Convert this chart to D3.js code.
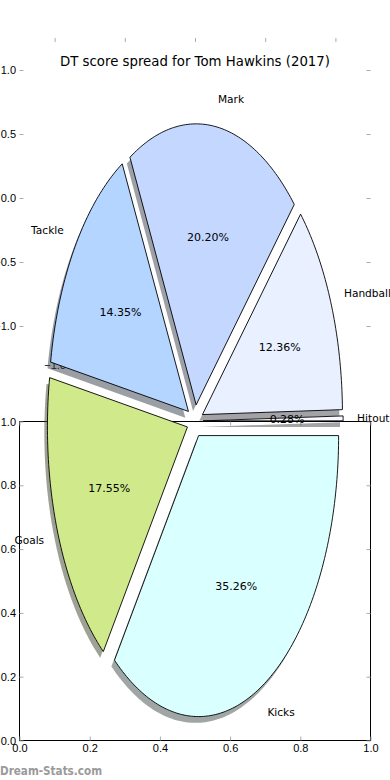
<!DOCTYPE html>
<html>
<head>
<meta charset="utf-8">
<script src="https://cdn.jsdelivr.net/npm/d3@7"></script>
<style>
  body { margin: 0; background: #fff; }
  svg { display: block; font-family: "DejaVu Sans", sans-serif; }
</style>
</head>
<body>
<svg id="chart" width="390" height="780"></svg>
<script>
const title = "DT score spread for Tom Hawkins (2017)";
const labels = ["Hitout", "Handball", "Mark", "Tackle", "Goals", "Kicks"];
const values = [0.28, 12.36, 20.20, 14.35, 17.55, 35.26];
const colors = ["#f7f7ff", "#e9f0ff", "#c4d8ff", "#b3d5ff", "#cfe98b", "#daffff"];
const pieTicks = [-1, -0.5, 0, 0.5, 1];
const unitTicks = [0, 0.2, 0.4, 0.6, 0.8, 1];
const explode = 0.058;
const startAngle = 0;

const svg = d3.select("#chart");
const fmt1 = d3.format(".1f");

// ghost axes behind the pie (only ticks + a few labels show)
const gx = d3.scaleLinear().domain([-1.25, 1.25]).range([19.5, 370.5]);
const gy = d3.scaleLinear().domain([-1.25, 1.25]).range([358, 38]);

function styleAxis(g) {
  g.select(".domain").remove();
  g.selectAll(".tick line").attr("stroke", "#aaa");
  g.selectAll(".tick text").attr("fill", "#000").style("font-size", "11px").attr("font-family", null);
}

svg.append("g").attr("transform", "translate(0,38)")
  .call(d3.axisTop(gx).tickValues(pieTicks).tickSize(-4).tickFormat(""))
  .call(styleAxis);
// only the lower tick labels that peek out from under the pie
svg.append("g").attr("transform", "translate(0,358)")
  .call(d3.axisBottom(gx).tickValues(pieTicks.slice(0, 4)).tickSize(0).tickPadding(3).tickFormat(fmt1))
  .call(styleAxis);
svg.append("g").attr("transform", "translate(19.5,0)")
  .call(d3.axisLeft(gy).tickValues(pieTicks).tickSize(-4).tickPadding(3.5).tickFormat(fmt1))
  .call(styleAxis);
svg.append("g").attr("transform", "translate(370.5,0)")
  .call(d3.axisRight(gy).tickValues(pieTicks).tickSize(-4).tickFormat(""))
  .call(styleAxis);

// title
svg.append("text")
  .attr("x", 195).attr("y", 65.5)
  .attr("text-anchor", "middle")
  .style("font-size", "13.3px")
  .text(title);

// lower 0..1 axes
const bx = d3.scaleLinear().domain([0, 1]).range([19.5, 370.5]);
const by = d3.scaleLinear().domain([0, 1]).range([740.5, 421.5]);

svg.append("rect")
  .attr("x", bx(0)).attr("y", by(1))
  .attr("width", bx(1) - bx(0)).attr("height", by(0) - by(1))
  .attr("fill", "#fff").attr("stroke", "#000").attr("stroke-width", 1);

svg.append("g").attr("transform", `translate(0,${by(0)})`)
  .call(d3.axisBottom(bx).tickValues(unitTicks).tickSize(-4).tickPadding(3.5).tickFormat(fmt1))
  .call(styleAxis);
svg.append("g").attr("transform", `translate(0,${by(1)})`)
  .call(d3.axisTop(bx).tickValues(unitTicks).tickSize(-4).tickFormat(""))
  .call(styleAxis);
svg.append("g").attr("transform", `translate(${bx(0)},0)`)
  .call(d3.axisLeft(by).tickValues(unitTicks).tickSize(-4).tickPadding(3.5).tickFormat(fmt1))
  .call(styleAxis);
svg.append("g").attr("transform", `translate(${bx(1)},0)`)
  .call(d3.axisRight(by).tickValues(unitTicks).tickSize(-4).tickFormat(""))
  .call(styleAxis);

// pie (stretched, matplotlib style: counter-clockwise from startAngle)
const xs = d3.scaleLinear().domain([-1.25, 1.25]).range([20, 370]);
const ys = d3.scaleLinear().domain([-1.25, 1.25]).range([772.25, 69.75]);
const total = d3.sum(values);
const cum = Array.from(d3.cumsum(values));
const rad = Math.PI / 180;

const slices = values.map((v, i) => {
  const t1 = startAngle + 360 * (cum[i] - v) / total;
  const t2 = startAngle + 360 * cum[i] / total;
  const tm = (t1 + t2) / 2 * rad;
  return {
    label: labels[i], value: v, color: colors[i], t1, t2,
    ox: explode * Math.cos(tm), oy: explode * Math.sin(tm),
    cos: Math.cos(tm), sin: Math.sin(tm)
  };
});

function wedgePoints(s, dx, dy) {
  const pts = [[s.ox + dx, s.oy + dy]];
  const n = Math.max(2, Math.ceil(s.t2 - s.t1));
  for (let k = 0; k <= n; k++) {
    const t = (s.t1 + (s.t2 - s.t1) * k / n) * rad;
    pts.push([s.ox + dx + Math.cos(t), s.oy + dy + Math.sin(t)]);
  }
  return pts;
}

const line = d3.line().x(d => xs(d[0])).y(d => ys(d[1]));
const sh = -0.02 * 80 / 72;

// shadows
svg.append("g").selectAll("path")
  .data(slices).enter()
  .append("path")
  .attr("d", d => line(wedgePoints(d, sh, sh)) + "Z")
  .attr("fill", d => { const c = d3.rgb(d.color); return d3.rgb(c.r * 0.3, c.g * 0.3, c.b * 0.3); })
  .attr("fill-opacity", 0.5);

// wedges
svg.append("g").selectAll("path")
  .data(slices).enter()
  .append("path")
  .attr("d", d => line(wedgePoints(d, 0, 0)) + "Z")
  .attr("fill", d => d.color)
  .attr("stroke", "#000")
  .attr("stroke-width", 0.9)
  .attr("stroke-linejoin", "miter");

// category labels
svg.append("g").selectAll("text")
  .data(slices).enter()
  .append("text")
  .attr("x", d => xs(d.ox + 1.1 * d.cos))
  .attr("y", d => ys(d.oy + 1.1 * d.sin))
  .attr("text-anchor", d => (d.ox + 1.1 * d.cos) > 0 ? "start" : "end")
  .attr("dominant-baseline", "central")
  .style("font-size", "10.6px")
  .text(d => d.label);

// percentages
svg.append("g").selectAll("text")
  .data(slices).enter()
  .append("text")
  .attr("x", d => xs(d.ox + 0.6 * d.cos))
  .attr("y", d => ys(d.oy + 0.6 * d.sin))
  .attr("text-anchor", "middle")
  .attr("dominant-baseline", "central")
  .style("font-size", "11px")
  .text(d => d3.format(".2f")(d.value / total * 100) + "%");

// watermark
svg.append("text")
  .attr("x", 0).attr("y", 775)
  .attr("fill", "#9a9a9a")
  .attr("font-weight", "bold")
  .attr("textLength", 102)
  .attr("lengthAdjust", "spacingAndGlyphs")
  .style("font-size", "12px")
  .text("Dream-Stats.com");
</script>
</body>
</html>
